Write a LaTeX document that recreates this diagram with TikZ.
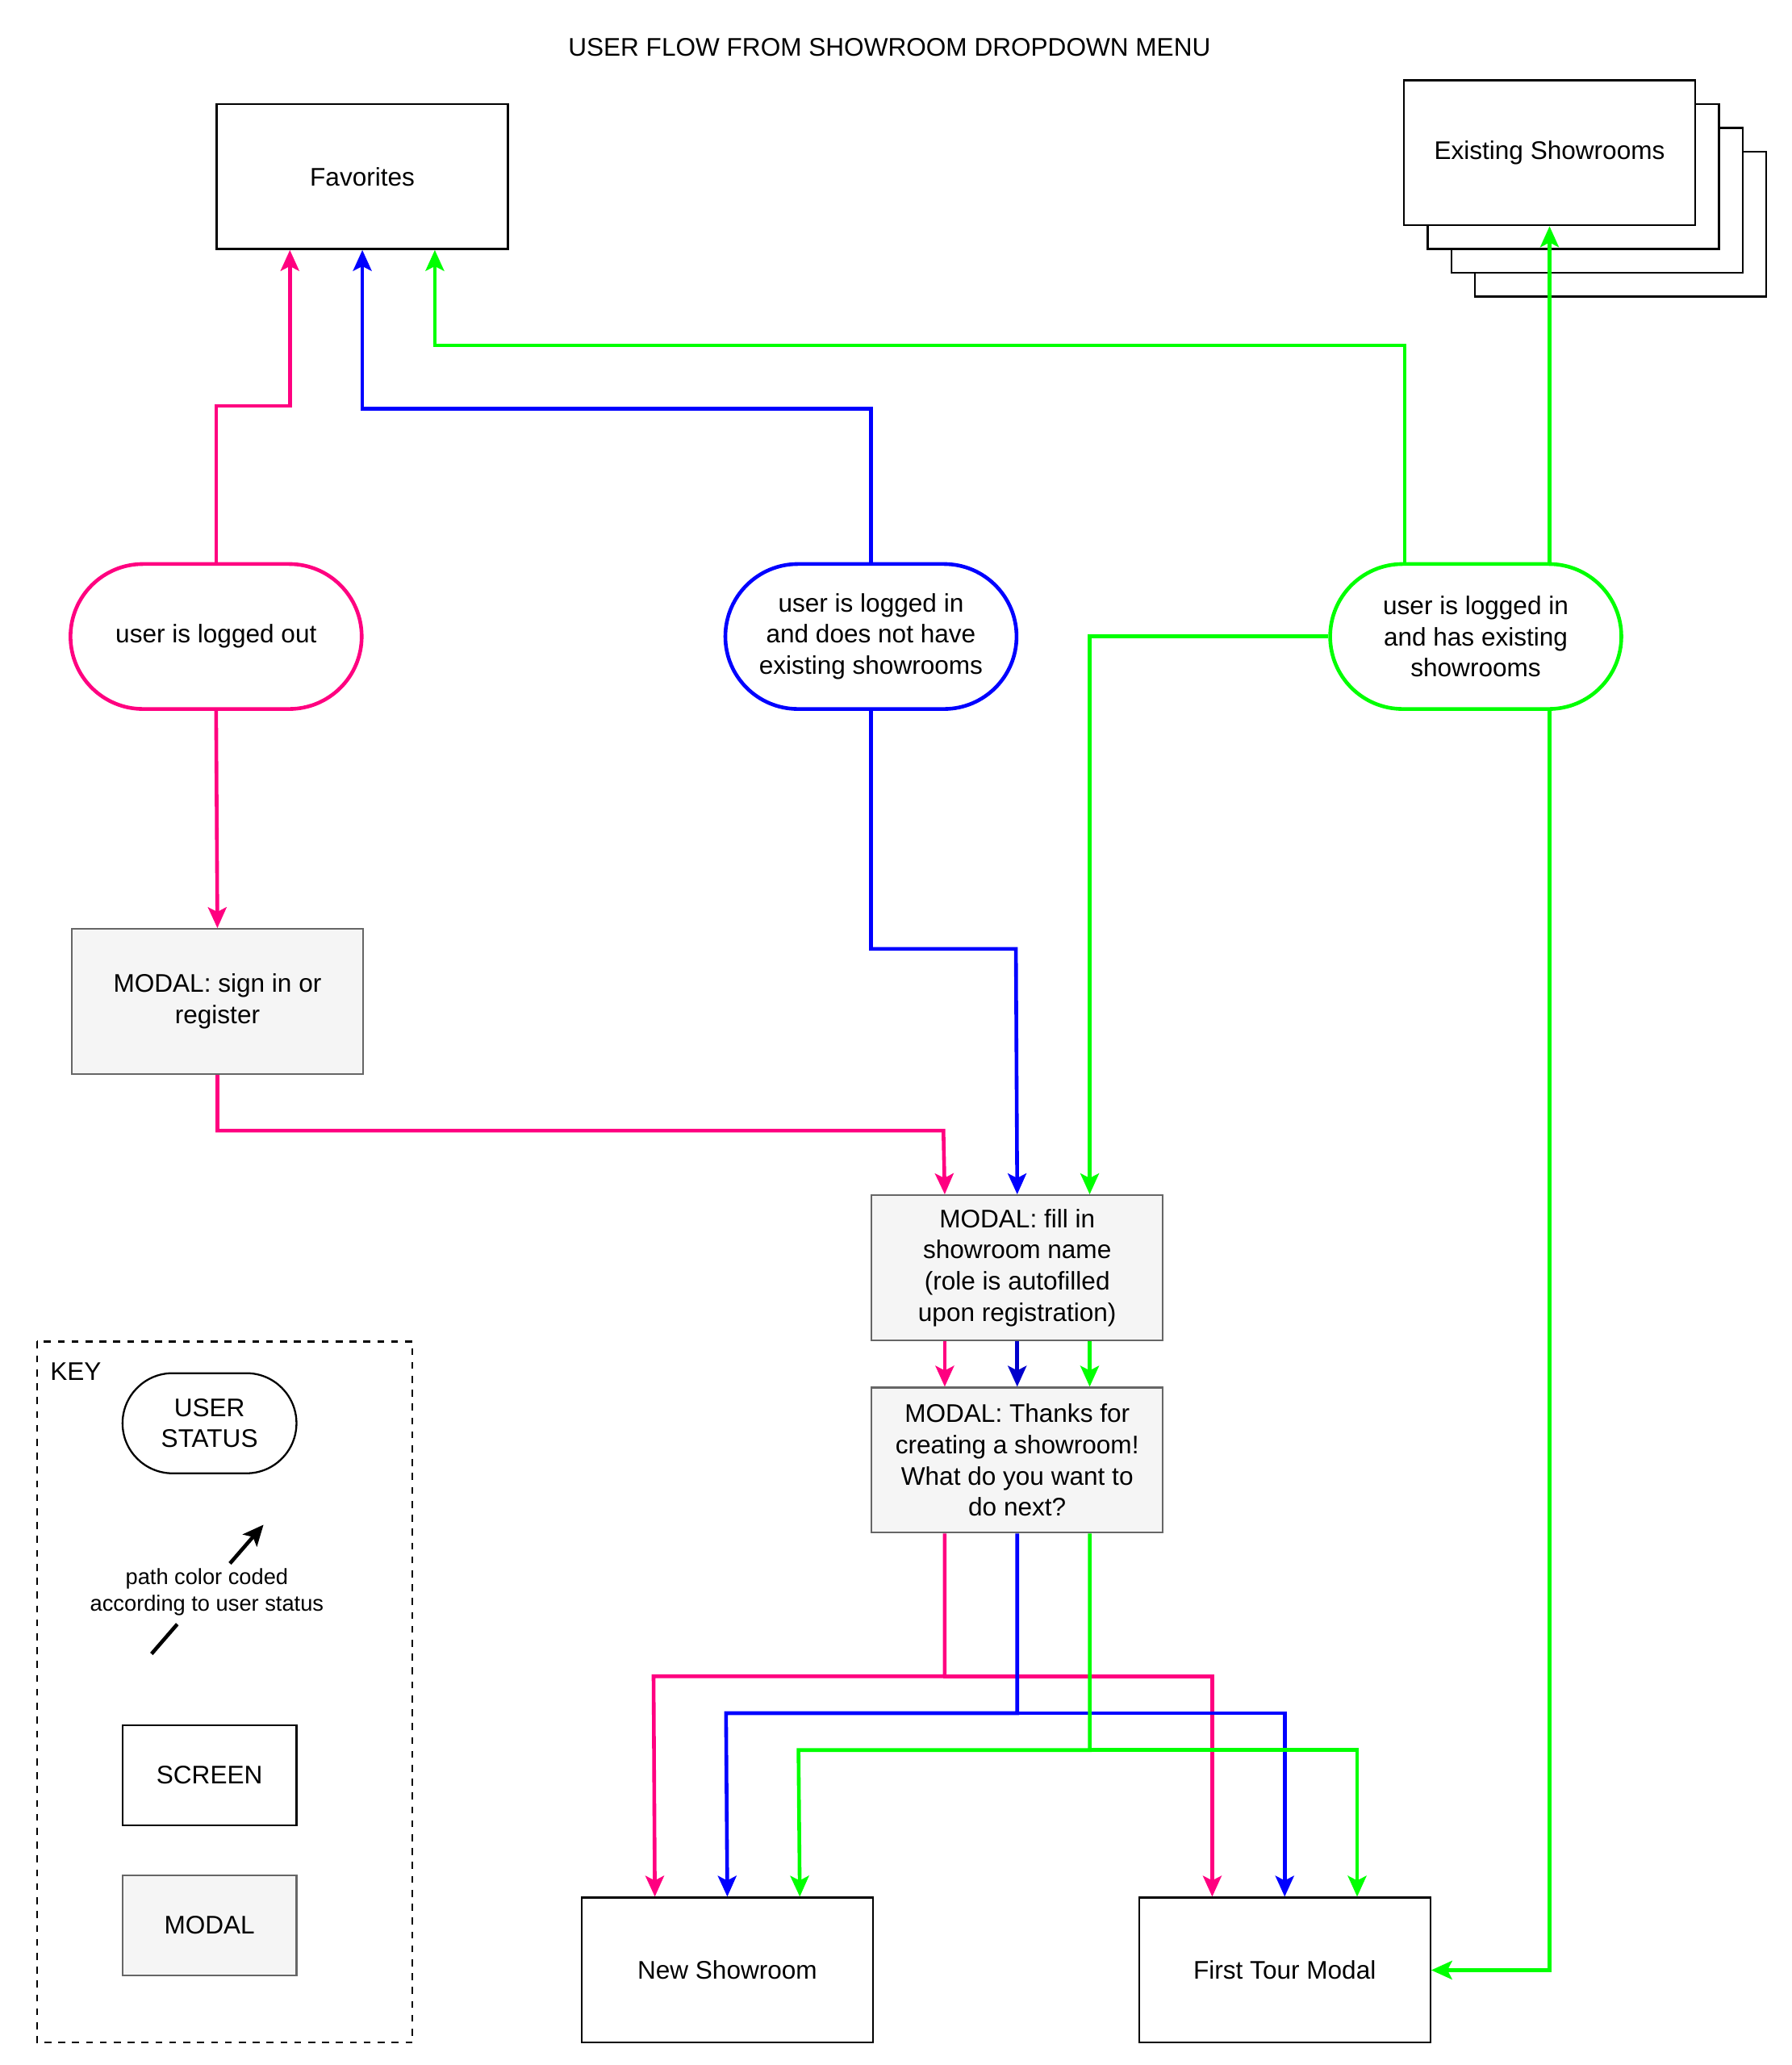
\documentclass[tikz,border=0pt]{standalone}
\usepackage{fontspec}
\setmainfont{Liberation Sans}
\usetikzlibrary{positioning,calc,arrows.meta}
\definecolor{pinkflow}{HTML}{FF0080}
\definecolor{blueflow}{HTML}{0000FF}
\definecolor{greenflow}{HTML}{00FF00}
\definecolor{modalfill}{HTML}{F5F5F5}
\definecolor{modaldraw}{HTML}{666666}
\tikzset{
  screen/.style={draw,thick,minimum width=221*0.02cm,minimum height=110*0.02cm,align=center,font=\fontsize{11}{13.5}\selectfont},
  modal/.style={screen,fill=modalfill,draw=modaldraw},
  status/.style={draw,line width=1.6pt,rounded corners=55*0.02cm,minimum width=221*0.02cm,minimum height=110*0.02cm,align=center,font=\fontsize{11}{13.5}\selectfont},
  flow/.style={line width=1.6pt,-{Stealth[length=9pt,width=8pt,inset=2pt]}},
}
\begin{document}
\begin{tikzpicture}[x=0.02cm,y=-0.02cm]
\useasboundingbox (0,0) rectangle (1360,1567);
\node[font=\fontsize{11}{13}\selectfont] (title) at (675,36) {USER FLOW FROM SHOWROOM DROPDOWN MENU};
% screens
\node[screen] (fav) at (275,134) {Favorites};
\foreach \k in {3,2,1} {
  \node[screen,fill=white] at ({1176+18*\k},{116+18*\k}) {};
}
\node[screen,fill=white] (exist) at (1176,116) {Existing Showrooms};
\node[screen] (new) at (552,1495) {New Showroom};
\node[screen] (tour) at (975,1495) {First Tour Modal};
% user status
\node[status,draw=pinkflow] (out) at (164,483) {user is logged out};
\node[status,draw=blueflow] (noshow) at (661,483) {user is logged in\\and does not have\\existing showrooms};
\node[status,draw=greenflow] (hasshow) at (1120,483) {user is logged in\\and has existing\\showrooms};
% modals
\node[modal] (signin) at (165,760) {MODAL: sign in or\\register};
\node[modal] (fill) at (772,962) {MODAL: fill in\\showroom name\\(role is autofilled\\upon registration)};
\node[modal] (thanks) at (772,1108) {MODAL: Thanks for\\creating a showroom!\\What do you want to\\do next?};
% paths to favorites
\draw[flow,pinkflow] (out.north) |- (220,308) -- ($(fav.south)+(-55,0)$);
\draw[flow,blueflow] (noshow.north) |- (275,310) -- (fav.south);
\draw[flow,greenflow] ($(hasshow.north)+(-54,0)$) |- (330,262) -- ($(fav.south)+(55,0)$);
\draw[flow,greenflow] ($(hasshow.north)+(56,0)$) -- (exist.south);
% paths to modals
\draw[flow,pinkflow] (out.south) -- (signin.north);
\draw[flow,pinkflow] (signin.south) |- (716,858) -- ($(fill.north)+(-55,0)$);
\draw[flow,blueflow] (noshow.south) |- (771,720) -- (fill.north);
\draw[flow,greenflow] (hasshow.west) -| ($(fill.north)+(55,0)$);
\draw[flow,greenflow] ($(hasshow.south)+(56,0)$) |- (tour.east);
\draw[flow,pinkflow] ($(fill.south)+(-55,0)$) -- ($(thanks.north)+(-55,0)$);
\draw[flow,blueflow!80!black] (fill.south) -- (thanks.north);
\draw[flow,greenflow] ($(fill.south)+(55,0)$) -- ($(thanks.north)+(55,0)$);
% paths to screens
\draw[flow,pinkflow] ($(thanks.south)+(-55,0)$) |- (496,1272) -- ($(new.north)+(-55,0)$);
\draw[flow,pinkflow] (716,1272) -| ($(tour.north)+(-55,0)$);
\draw[flow,blueflow] (thanks.south) |- (551,1300) -- (new.north);
\draw[flow,blueflow] (771,1300) -| (tour.north);
\draw[flow,greenflow] ($(thanks.south)+(55,0)$) |- (606,1328) -- ($(new.north)+(55,0)$);
\draw[flow,greenflow] (826,1328) -| ($(tour.north)+(55,0)$);
% key
\draw[thick,dash pattern=on 3pt off 3pt] (28,1018) rectangle (313,1550);
\node[anchor=west,font=\fontsize{11}{13}\selectfont] (key) at (32,1041) {KEY};
\node[status,line width=0.8pt,rounded corners=38*0.02cm,minimum width=132*0.02cm,minimum height=76*0.02cm] (kstatus) at (159,1080) {USER\\STATUS};
\coordinate (ka) at (115,1255);
\coordinate (kb) at (200,1157);
\draw[line width=1.6pt] (ka) -- ($(ka)!0.23!(kb)$);
\draw[flow,black] ($(ka)!0.7!(kb)$) -- (kb);
\node[align=center,font=\fontsize{9.5}{11.5}\selectfont] (kpath) at (157,1208) {path color coded\\according to user status};
\node[screen,minimum width=132*0.02cm,minimum height=76*0.02cm] (kscreen) at (159,1347) {SCREEN};
\node[modal,minimum width=132*0.02cm,minimum height=76*0.02cm] (kmodal) at (159,1461) {MODAL};
\end{tikzpicture}
\end{document}
